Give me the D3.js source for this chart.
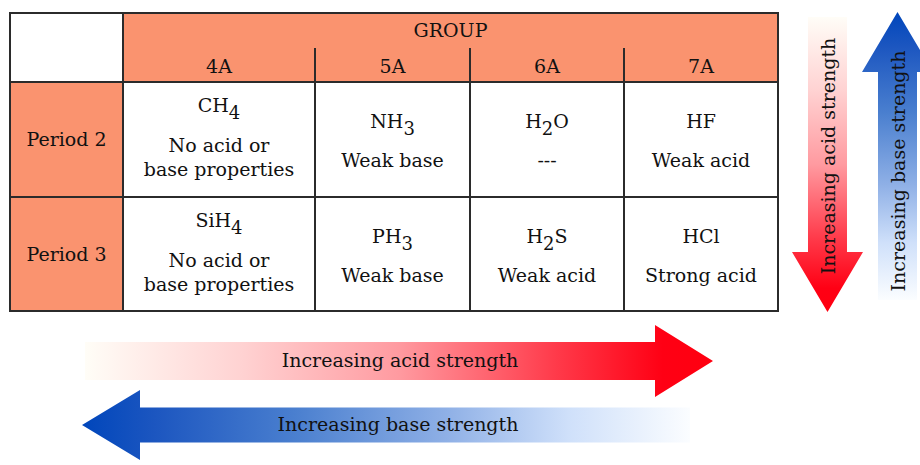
<!DOCTYPE html>
<html>
<head>
<meta charset="utf-8">
<script src="https://cdn.jsdelivr.net/npm/d3@7"></script>
<style>
  body { margin: 0; background: #fff; }
  svg { display: block; }
  text { font-family: "DejaVu Serif", "Liberation Serif", serif; fill: #111; }
</style>
</head>
<body>
<svg width="920" height="465"></svg>
<script>
// table content
var header = "GROUP";
var groups = ["4A", "5A", "6A", "7A"];
var periods = ["Period 2", "Period 3"];
// "_n" marks a subscript
var formulas = [
  ["CH_4", "NH_3", "H_2O", "HF"],
  ["SiH_4", "PH_3", "H_2S", "HCl"]
];
// "|" splits a description over two lines
var properties = [
  ["No acid or|base properties", "Weak base", "---", "Weak acid"],
  ["No acid or|base properties", "Weak base", "Weak acid", "Strong acid"]
];
var arrowLabels = ["Increasing acid strength", "Increasing base strength"];

var svg = d3.select("svg");
var salmon = "#fa936f";
var line = "#2b2b2b";
var fs = 19;

// column / row edges
var x = d3.scaleOrdinal().domain(["label"].concat(groups)).range([10, 123, 315, 470, 624]);
var w = d3.scaleOrdinal().domain(["label"].concat(groups)).range([113, 192, 155, 154, 154]);
var y = d3.scaleOrdinal().domain(periods).range([82, 197]);
var rowH = 114;
var tTop = 13, headMid = 48, headBot = 82, tRight = 778;

// ---------- gradients ----------
var defs = svg.append("defs");
function grad(id, x1, y1, x2, y2, stops) {
  var g = defs.append("linearGradient").attr("id", id)
    .attr("gradientUnits", "userSpaceOnUse")
    .attr("x1", x1).attr("y1", y1).attr("x2", x2).attr("y2", y2);
  stops.forEach(function(s) {
    g.append("stop").attr("offset", s[0]).attr("stop-color", s[1]);
  });
}
var redStops = [[0, "#fffdf7"], [0.25, "#ffd2d2"], [0.5, "#ff9aa0"], [0.75, "#ff3a4a"], [0.92, "#ff0014"], [1, "#ff0010"]];
var blueStops = [[0, "#0046bb"], [0.12, "#1c56c0"], [0.35, "#4a7fcf"], [0.6, "#8fb0e6"], [0.8, "#cfe0fa"], [1, "#fbfdff"]];
grad("redH", 85, 0, 713, 0, redStops);
grad("blueH", 82, 0, 690, 0, blueStops);
grad("redV", 0, 17, 0, 312, redStops);
grad("blueV", 0, 12, 0, 300, blueStops);

// ---------- header ----------
svg.append("rect").attr("x", x("4A")).attr("y", tTop)
  .attr("width", tRight - x("4A")).attr("height", headBot - tTop)
  .attr("fill", salmon);

svg.append("text").attr("x", (x("4A") + tRight) / 2).attr("y", 37)
  .attr("text-anchor", "middle").attr("font-size", fs).text(header);

svg.selectAll(".grp").data(groups).enter().append("text")
  .attr("class", "grp")
  .attr("x", function(d) { return x(d) + w(d) / 2; })
  .attr("y", 73).attr("text-anchor", "middle").attr("font-size", fs)
  .text(function(d) { return d; });

// ---------- period column ----------
svg.selectAll(".prow").data(periods).enter().append("rect")
  .attr("x", x("label")).attr("y", function(d) { return y(d); })
  .attr("width", w("label")).attr("height", rowH + 1)
  .attr("fill", salmon);

svg.selectAll(".plab").data(periods).enter().append("text")
  .attr("x", x("label") + w("label") / 2)
  .attr("y", function(d) { return y(d) + rowH / 2 + 7; })
  .attr("text-anchor", "middle").attr("font-size", fs)
  .text(function(d) { return d; });

// ---------- cells ----------
var cells = [];
periods.forEach(function(p, i) {
  groups.forEach(function(g, j) {
    cells.push({ p: p, g: g, f: formulas[i][j], prop: properties[i][j] });
  });
});

var cell = svg.selectAll(".cell").data(cells).enter().append("g")
  .attr("transform", function(d) { return "translate(" + (x(d.g) + w(d.g) / 2) + "," + y(d.p) + ")"; });

cell.each(function(d) {
  var g = d3.select(this);
  var lines = d.prop.split("|");
  var two = lines.length > 1;
  var ft = g.append("text").attr("text-anchor", "middle").attr("font-size", fs)
    .attr("y", two ? 30 : 46);
  var shift = 0;
  d.f.split(/(_\d)/).forEach(function(part) {
    if (!part) return;
    if (part[0] === "_") {
      ft.append("tspan").attr("dy", 7).attr("font-size", fs - 1).text(part.slice(1));
      shift = -7;
    } else {
      ft.append("tspan").attr("dy", shift).text(part);
      shift = 0;
    }
  });
  lines.forEach(function(l, k) {
    g.append("text").attr("text-anchor", "middle").attr("font-size", fs)
      .attr("y", two ? 70 + k * 24 : 85)
      .text(l);
  });
});

// ---------- grid lines ----------
var bottom = y("Period 3") + rowH;
var grid = svg.append("g").attr("stroke", line).attr("fill", "none").attr("stroke-width", 2);
grid.append("rect").attr("x", x("label")).attr("y", tTop)
  .attr("width", tRight - x("label")).attr("height", bottom - tTop);
grid.append("line").attr("x1", x("4A")).attr("x2", x("4A"))
  .attr("y1", tTop).attr("y2", bottom);
grid.selectAll(".vl").data(groups.slice(1)).enter().append("line")
  .attr("x1", function(d) { return x(d); }).attr("x2", function(d) { return x(d); })
  .attr("y1", headMid).attr("y2", bottom);
grid.selectAll(".hl").data(periods).enter().append("line")
  .attr("x1", x("label")).attr("x2", tRight)
  .attr("y1", function(d) { return y(d); }).attr("y2", function(d) { return y(d); });

// ---------- arrows ----------
function arrowH(x0, x1, xh, cy, sh, hh) {
  // x0: tail, xh: head base, x1: tip
  return [[x0, cy - sh], [xh, cy - sh], [xh, cy - hh], [x1, cy], [xh, cy + hh], [xh, cy + sh], [x0, cy + sh]];
}
function arrowV(y0, y1, yh, cx, sh, hh) {
  return [[cx - sh, y0], [cx - sh, yh], [cx - hh, yh], [cx, y1], [cx + hh, yh], [cx + sh, yh], [cx + sh, y0]];
}
var arrows = svg.append("g");
arrows.append("polygon").attr("points", arrowH(85, 713, 655, 361, 19, 36).join(" ")).attr("fill", "url(#redH)");
arrows.append("polygon").attr("points", arrowH(690, 82, 140, 425, 17.5, 35).join(" ")).attr("fill", "url(#blueH)");
arrows.append("polygon").attr("points", arrowV(17, 312, 252, 827.5, 19.5, 35.5).join(" ")).attr("fill", "url(#redV)");
arrows.append("polygon").attr("points", arrowV(300, 12, 72, 897.5, 19.5, 35.5).join(" ")).attr("fill", "url(#blueV)");

arrows.append("text").attr("x", 400).attr("y", 367).attr("text-anchor", "middle")
  .attr("font-size", fs).text(arrowLabels[0]);
arrows.append("text").attr("x", 398).attr("y", 431).attr("text-anchor", "middle")
  .attr("font-size", fs).text(arrowLabels[1]);
arrows.append("text").attr("transform", "translate(835,156) rotate(-90)").attr("text-anchor", "middle")
  .attr("font-size", fs).text(arrowLabels[0]);
arrows.append("text").attr("transform", "translate(905,171) rotate(-90)").attr("text-anchor", "middle")
  .attr("font-size", fs).text(arrowLabels[1]);
</script>
</body>
</html>
